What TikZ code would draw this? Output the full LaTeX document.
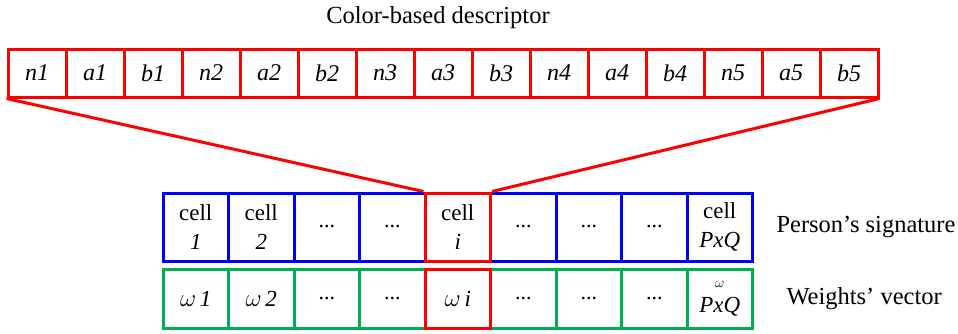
\documentclass[tikz,border=0pt]{standalone}
\usepackage{fontspec}
\setmainfont{LiberationSerif}[Extension=.ttf, UprightFont=*-Regular, ItalicFont=*-Italic, BoldFont=*-Bold, BoldItalicFont=*-BoldItalic, Ligatures=TeX]
\usepackage{tikz}
\usepackage{xcolor}
\usetikzlibrary{positioning}

\definecolor{descred}{RGB}{255,0,0}
\definecolor{sigblue}{RGB}{0,0,255}
\definecolor{wgreen}{RGB}{0,176,80}

\tikzset{
    desccell/.style={draw=descred, line width=3pt, minimum width=58pt, minimum height=48pt, inner sep=0pt, font=\fontsize{24}{28}\selectfont\itshape},
    sigcell/.style={draw=sigblue, line width=3pt, minimum width=65.5pt, minimum height=68pt, inner sep=0pt, align=center, font=\fontsize{23}{29}\selectfont},
    wcell/.style={draw=wgreen, line width=3pt, minimum width=65.5pt, minimum height=59pt, inner sep=0pt, align=center, font=\fontsize{23}{25}\selectfont\itshape},
    picked/.style={draw=descred},
    dots/.style={font=\fontsize{22}{24}\selectfont}
}

\begin{document}
\begin{tikzpicture}[x=1pt, y=-1pt]
                    \useasboundingbox (0, 0) rectangle (958, 333);

                    \node[font=\fontsize{24.5}{28}\selectfont] (title) at (438, 18) {Color-based descriptor};

                    \node[desccell] (d1) at (37, 73) {n1};
                    \node[desccell] (d2) at (95, 73) {a1};
                    \node[desccell] (d3) at (153, 73) {b1};
                    \node[desccell] (d4) at (211, 73) {n2};
                    \node[desccell] (d5) at (269, 73) {a2};
                    \node[desccell] (d6) at (327, 73) {b2};
                    \node[desccell] (d7) at (385, 73) {n3};
                    \node[desccell] (d8) at (443, 73) {a3};
                    \node[desccell] (d9) at (501, 73) {b3};
                    \node[desccell] (d10) at (559, 73) {n4};
                    \node[desccell] (d11) at (617, 73) {a4};
                    \node[desccell] (d12) at (675, 73) {b4};
                    \node[desccell] (d13) at (733, 73) {n5};
                    \node[desccell] (d14) at (791, 73) {a5};
                    \node[desccell] (d15) at (849, 73) {b5};

                    \node[sigcell] (s1) at (195.75, 227) {cell\\\textit{1}};
                    \node[sigcell] (s2) at (261.25, 227) {cell\\\textit{2}};
                    \node[sigcell, dots] (s3) at (326.75, 227) {...};
                    \node[sigcell, dots] (s4) at (392.25, 227) {...};
                    \node[sigcell, dots] (s6) at (523.25, 227) {...};
                    \node[sigcell, dots] (s7) at (588.75, 227) {...};
                    \node[sigcell, dots] (s8) at (654.25, 227) {...};
                    \node[sigcell] (s9) at (719.75, 227) {cell\\\textit{PxQ}};
                    \node[sigcell, picked] (s5) at (457.75, 227) {cell\\\textit{i}};

                    \node[wcell] (w1) at (195.75, 298.5) {$\omega$\,1};
                    \node[wcell] (w2) at (261.25, 298.5) {$\omega$\,2};
                    \node[wcell, dots] (w3) at (326.75, 298.5) {...};
                    \node[wcell, dots] (w4) at (392.25, 298.5) {...};
                    \node[wcell, dots] (w6) at (523.25, 298.5) {...};
                    \node[wcell, dots] (w7) at (588.75, 298.5) {...};
                    \node[wcell, dots] (w8) at (654.25, 298.5) {...};
                    \node[wcell] (w9) at (719.75, 298.5) {{\fontsize{15}{17}\selectfont $\omega$}\\PxQ};
                    \node[wcell, picked] (w5) at (457.75, 298.5) {$\omega$\,i};

                    \node[anchor=west, font=\fontsize{24.5}{28}\selectfont] (sig) at (773, 227) {Person’s signature};
                    \node[anchor=west, font=\fontsize{24.5}{28}\selectfont] (wts) at (783, 298.5) {Weights’ vector};

                    \draw[descred, line width=3pt]
                    (d1.south west) -- (s5.north west)
                    (d15.south east) -- (s5.north east);
                \end{tikzpicture}
\end{document}
